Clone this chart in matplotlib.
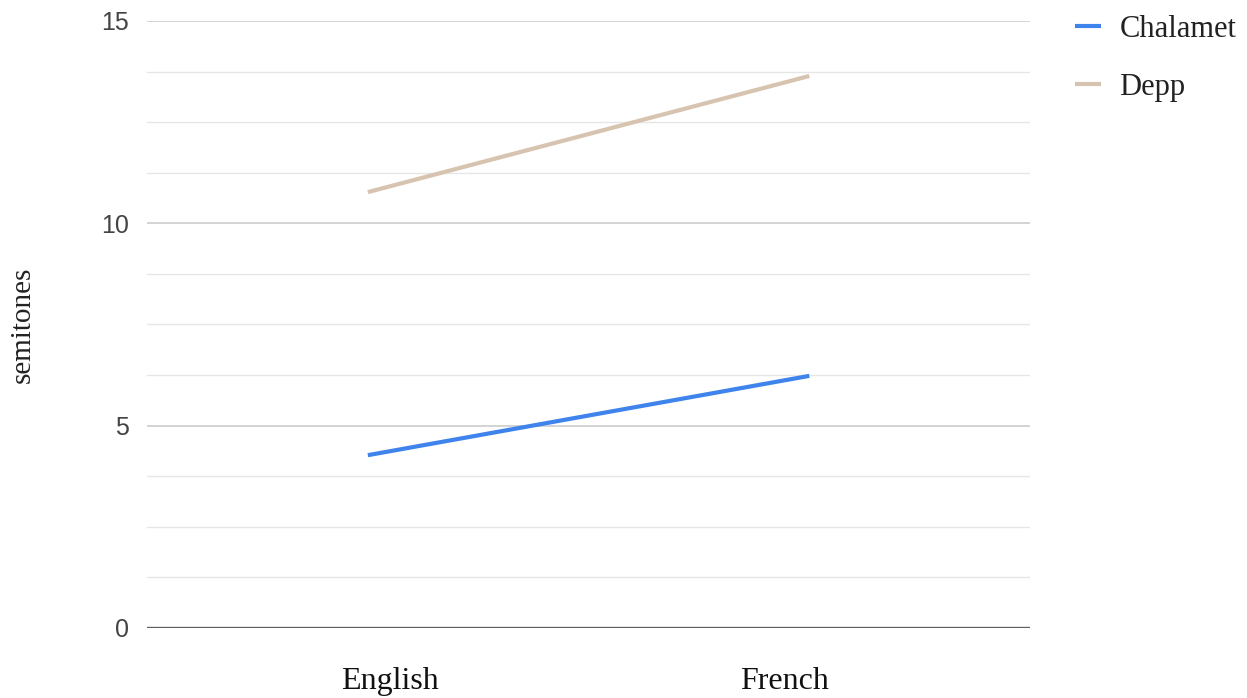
import numpy as np
import matplotlib.pyplot as plt
import matplotlib.transforms as mtransforms

languages = ['English', 'French']
chalamet = [4.27, 6.23]
depp = [10.77, 13.64]
y_major = [0, 5, 10, 15]

serif = ['Liberation Serif', 'DejaVu Serif']
sans = ['Liberation Sans', 'DejaVu Sans']

fig = plt.figure(figsize=(12.47, 6.98), dpi=100)
ax = fig.add_axes([0.118, 0.1003, 0.708, 0.8697])

x = np.arange(len(languages))
ax.plot(x, chalamet, color='#3f83ec', lw=3, label='Chalamet', solid_capstyle='butt')
ax.plot(x, depp, color='#d7c4b0', lw=3, label='Depp', solid_capstyle='butt')

ax.set_xlim(-0.5, 1.5)
ax.set_ylim(0, 15)
ax.set_yticks(y_major)
ax.set_yticks(np.arange(0, 15.01, 1.25), minor=True)
ax.grid(axis='y', which='major', color='#cccccc', lw=1.2)
ax.grid(axis='y', which='minor', color='#e6e6e6', lw=1.0)
ax.set_axisbelow(True)
ax.axhline(0, color='#606060', lw=2.4, zorder=3)

for s in ax.spines.values():
    s.set_visible(False)
ax.tick_params(axis='both', which='both', length=0)
ax.tick_params(axis='y', pad=13, labelsize=18, labelcolor='#444444')
ax.tick_params(axis='x', pad=28)
ax.set_xticks(x)
ax.set_xticklabels(languages, family=serif, fontsize=23, color='#111111')
for t in ax.get_yticklabels():
    t.set_family(sans)

# the category labels sit a little inward from the data points
shifts = [0.22, -0.25]  # inches
for t, dx in zip(ax.get_xticklabels(), shifts):
    t.set_transform(t.get_transform() + mtransforms.ScaledTranslation(dx, 0, fig.dpi_scale_trans))

ax.set_ylabel('semitones', family=serif, fontsize=21, labelpad=47, color='#222222')

leg = ax.legend(loc='upper left', bbox_to_anchor=(1.02, 1.055), frameon=False,
                prop={'family': serif, 'size': 22}, handlelength=0.85,
                handletextpad=0.6, labelspacing=0.95, labelcolor='#222222')

fig.savefig('out.png', dpi=100)
